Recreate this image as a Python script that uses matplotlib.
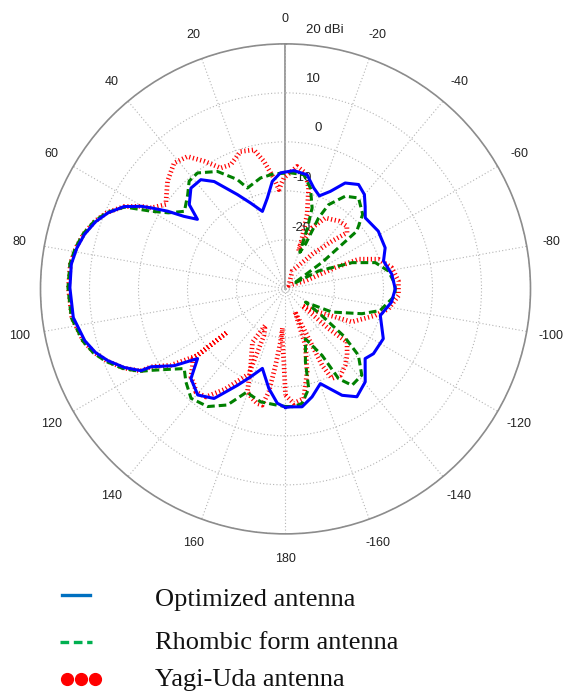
################################################################################
# Polar radiation pattern: optimized vs rhombic vs Yagi-Uda antenna
################################################################################
import numpy as np
import matplotlib
matplotlib.use('Agg')
import matplotlib.pyplot as plt
from matplotlib.lines import Line2D

# %%
# Data (angle in deg, gain in dBi)
blue_deg = [-180, -177.6, -172, -166.2, -159.8, -152, -146.5, -139.4, -131.2, -126.4,
            -117, -105.7, -97.1, -90, -82.2, -74.1, -67.6, -58.1, -48.3, -44,
            -39.9, -35, -29.4, -24.7, -20, -15.6, -10.7, -4, 2.5, 7,
            11.3, 16.6, 22.1, 27, 33.6, 37.8, 43.2, 48.8, 51.7, 54.5,
            56.6, 58.9, 60.2, 63, 66.8, 70.5, 74.8, 79, 83.4, 89.7,
            97.7, 104.5, 108.5, 112, 116, 119.5, 120.1, 124.6, 128.4, 133.5,
            140.4, 146.9, 153.5, 158.4, 163.8, 170.5, 175.9, 180]
blue_dbi = [-5.8, -5.9, -5.7, -7.3, -9.4, -5.4, -3.6, -5.0, -8.4, -7.7,
            -7.6, -9.9, -8.2, -7.6, -8.1, -9.2, -8.0, -7.7, -8.2, -6.6,
            -4.9, -4.0, -5.2, -8.1, -9.8, -8.6, -6.3, -5.8, -6.3, -7.9,
            -11.1, -13.5, -11.1, -8.4, -3.7, -1.8, -1.8, -3.9, -7.1, -4.5,
            -1.2, 2.0, 3.9, 7.0, 9.4, 11.1, 12.5, 13.4, 14.0, 14.0,
            13.7, 12.3, 10.9, 9.1, 6.6, 3.9, 1.7, -2.4, -7.1, -3.4,
            -1.9, -3.3, -8.0, -10.7, -13.1, -9.4, -6.6, -5.8]

green_deg = [-180, -176, -171.7, -166.9, -164.7, -158.2, -151.2, -149.4, -145.4, -138.5,
             -132.3, -129, -126, -123.7, -116.5, -108, -102.9, -93.5, -87.6, -80.1,
             -73.7, -68.5, -61.6, -57, -54, -51, -46, -38.8, -32.8, -27.1,
             -25, -24.1, -21.5, -19.8, -18.2, -13.9, -9.1, -2.5, 5.8, 12.7,
             20.7, 23.8, 30.1, 37.2, 41.8, 46.1, 52.5, 57, 60, 63,
             66.8, 70.5, 74.8, 79, 83.4, 89.7, 97.7, 104.5, 108.5, 112,
             116, 119.5, 121.2, 124.5, 128.2, 133, 139.2, 146.5, 153.4, 159.6,
             161.8, 167.6, 175.9, 180]
green_dbi = [-6.0, -5.9, -6.4, -9.1, -14.6, -19.0, -14.5, -8.7, -6.1, -6.5,
             -9.9, -14.6, -21.3, -25.1, -19.4, -13.6, -10.2, -7.6, -7.6, -8.7,
             -10.9, -15.4, -22.3, -28.0, -20.6, -11.3, -8.1, -6.2, -7.5, -10.7,
             -14.0, -20.0, -22.0, -16.8, -12.6, -8.8, -6.4, -6.3, -6.4, -6.8,
             -8.0, -5.6, -2.3, -0.3, -0.5, -2.3, -4.0, -1.5, 1.7, 6.8,
             9.6, 11.4, 12.8, 13.7, 14.3, 14.4, 14.1, 12.7, 11.3, 9.5,
             7.0, 4.2, 2.1, -1.0, -3.7, -2.2, -0.5, -1.2, -3.5, -7.6,
             -7.2, -6.4, -6.2, -6.0]

red_deg = [-180, -175.9, -170.6, -165.4, -160.6, -157.5, -155, -154.4, -152.6, -147.5,
           -142, -137.2, -130.8, -132.7, -135, -125, -116.5, -106.5, -101, -93.4,
           -86, -78.7, -72.3, -67.9, -66.9, -68, -45, -20.4, -37.6, -44.2,
           -47.6, -44.4, -38.1, -29.3, -23.5, -17.8, -19.3, -18, -16.2, -12.9,
           -9.8, -5.4, 0.9, 3.8, 6, 9.6, 12.8, 18.1, 23.8, 28.2,
           32.5, 36.5, 41.5, 47.6, 54.8, 58.9, 60.2, 63, 66.8, 70.5,
           74.8, 79, 83.4, 89.7, 97.7, 104.5, 108.5, 112, 116, 119.5,
           120.1, 123.7, 127.1, 126.6, 127, 129.5, 133, 136.5, 139, 143.6,
           149.1, 156.7, 155.2, 151, 148.2, 155.5, 159.7, 163.2, 166.2, 168.7,
           170.8, 172.6, 174.6, 175.5, 176.2, 178.7, 180]
red_dbi = [-8.3, -6.6, -7.3, -12.5, -17.8, -25.0, -18.8, -12.7, -9.4, -9.1,
           -10.2, -11.5, -13.4, -18.0, -25.2, -21.7, -14.9, -10.9, -8.6, -6.9,
           -6.9, -7.9, -10.1, -13.9, -18.9, -25.6, -29.0, -26.1, -21.1, -16.4,
           -13.0, -12.1, -12.4, -13.4, -16.4, -21.2, -21.8, -19.0, -14.2, -8.9,
           -6.0, -4.9, -7.4, -9.7, -7.3, -3.6, -0.9, -0.5, -2.3, -2.0,
           0.9, 3.6, 4.3, 2.6, -0.1, 2.0, 3.9, 7.0, 9.6, 11.3,
           12.7, 13.6, 14.2, 14.3, 14.0, 12.6, 11.1, 9.3, 6.8, 4.0,
           1.7, -1.9, -7.5, -15.2, -6.3, -5.4, -3.6, -3.0, -2.1, -2.6,
           -6.2, -11.1, -19.5, -21.5, -17.2, -12.9, -7.6, -6.6, -5.9, -5.8,
           -8.7, -14.3, -19.1, -22.0, -19.8, -15.1, -8.3]

ring_values = [20, 10, 0, -10, -20]
ring_labels = ['20 dBi', '10', '0', '-10', '-20']
theta_ticks = list(range(0, 360, 20))
theta_labels = ['0', '20', '40', '60', '80', '100', '120', '140', '160', '180',
                '-160', '-140', '-120', '-100', '-80', '-60', '-40', '-20']
legend_labels = ['Optimized antenna', 'Rhombic form antenna', 'Yagi-Uda antenna']

################################################################################
# %%
plt.rcParams['font.family'] = 'Liberation Sans'

W, H = 564, 693
fig = plt.figure(figsize=(W / 100, H / 100), dpi=100)
ax = fig.add_axes([0.0718, 0.2296, 0.8688, 0.7071], projection='polar')
ax.set_theta_zero_location('N')
ax.set_theta_direction(1)
ax.set_ylim(-30, 20)

# grid
ax.set_rgrids(ring_values, labels=[''] * len(ring_values))
ax.set_thetagrids(theta_ticks, labels=theta_labels)
ax.grid(True, color='#b4b4b4', linestyle=(0, (1, 2)), linewidth=0.8)
ax.spines['polar'].set_color('#8c8c8c')
ax.spines['polar'].set_linewidth(1.2)
ax.axvline(0, color='#8c8c8c', linewidth=1.2, zorder=1)
ax.tick_params(axis='x', labelsize=9, pad=11, length=0, colors='#222222')
ax.tick_params(axis='y', length=0)

# radial labels sit just above each ring, right of the 0 deg line
ring_offsets = [(39, 14), (28, 14), (33, 14), (17, 13), (16, 12)]
for val, lab, off in zip(ring_values, ring_labels, ring_offsets):
    ax.annotate(lab, xy=(0, val), xytext=off, textcoords='offset pixels',
                ha='center', va='center', fontsize=9.5, color='#222222')

# curves
ax.plot(np.deg2rad(red_deg), red_dbi, color='#ff0000', linewidth=3.4,
        dashes=(0.25, 0.55), zorder=2)
ax.plot(np.deg2rad(green_deg), green_dbi, color='#008000', linewidth=2.2,
        dashes=(2.5, 1.3), zorder=3)
ax.plot(np.deg2rad(blue_deg), blue_dbi, color='#0000ff', linewidth=2.2, zorder=4)

# %%
# Hand-made legend below the chart
def fx(x):
    return x / W


def fy(y):
    return 1 - y / H


fig.add_artist(Line2D([fx(62), fx(90)], [fy(595), fy(595)], color='#0070c0',
                      linewidth=2.4, transform=fig.transFigure))
fig.add_artist(Line2D([fx(60), fx(92)], [fy(642), fy(642)], color='#00b050',
                      linewidth=2.4, dashes=(2.6, 1.4), transform=fig.transFigure))
fig.add_artist(Line2D([fx(67), fx(81), fx(95)], [fy(679)] * 3, color='#ff0000',
                      linestyle='none', marker='o', markersize=8.5,
                      transform=fig.transFigure))
for lab, yb in zip(legend_labels, [606, 649, 686]):
    fig.text(fx(155), fy(yb), lab, fontsize=19, family='Liberation Serif',
             va='baseline', ha='left', color='#111111')

plt.savefig('out.png', dpi=100)
plt.close()
